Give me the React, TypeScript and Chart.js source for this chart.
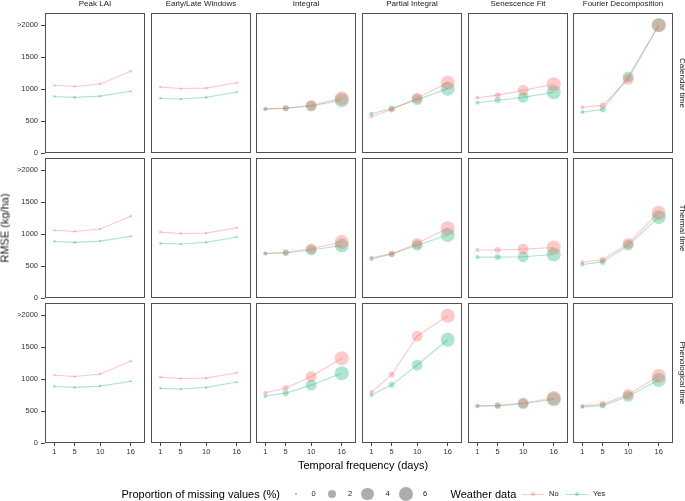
import React, { useEffect, useRef } from 'react';
import { Chart, registerables } from 'chart.js';

Chart.register(...registerables);

// ---------- data ----------
const frequencies = [1, 5, 10, 16];
const methods = ['Peak LAI', 'Early/Late Windows', 'Integral', 'Partial Integral', 'Senescence Fit', 'Fourier Decomposition'];
const timeBases = ['Calendar time', 'Thermal time', 'Phenological time'];
const yTickValues = [0, 500, 1000, 1500, 2000];
const yTickLabels = ['0', '500', '1000', '1500', '>2000'];
const missingLegendValues = [0, 2, 4, 6];
const weatherLabels = ['No', 'Yes'];

// RMSE (kg/ha), one row per method, values at frequencies 1, 5, 10, 16
const calendarNo = [
  [1060, 1040, 1080, 1280],
  [1030, 1010, 1015, 1100],
  [690, 700, 745, 855],
  [570, 680, 860, 1100],
  [865, 905, 980, 1075],
  [715, 745, 1150, 2000],
];
const calendarYes = [
  [885, 870, 890, 965],
  [855, 845, 870, 955],
  [690, 700, 735, 825],
  [615, 695, 835, 1005],
  [785, 825, 870, 950],
  [640, 680, 1190, 2000],
];
const thermalNo = [
  [1060, 1040, 1080, 1280],
  [1030, 1010, 1015, 1100],
  [695, 715, 770, 875],
  [605, 690, 855, 1090],
  [750, 750, 765, 790],
  [560, 600, 855, 1335],
];
const thermalYes = [
  [885, 870, 890, 965],
  [855, 845, 870, 955],
  [695, 705, 750, 820],
  [630, 690, 825, 985],
  [640, 640, 645, 680],
  [525, 565, 825, 1265],
];
const phenologicalNo = [
  [1060, 1040, 1080, 1280],
  [1030, 1010, 1015, 1100],
  [785, 860, 1040, 1325],
  [795, 1070, 1670, 1990],
  [585, 590, 625, 705],
  [580, 610, 760, 1050],
];
const phenologicalYes = [
  [885, 870, 890, 965],
  [855, 845, 870, 955],
  [735, 780, 905, 1090],
  [750, 910, 1220, 1615],
  [575, 580, 615, 685],
  [565, 585, 730, 985],
];

// proportion of missing values (%) at frequencies 1, 5, 10, 16
const missingNone = [0, 0, 0, 0];
const missingGrowing = [0.25, 0.8, 3, 5.2];
const methodMissing = [missingNone, missingNone, missingGrowing, missingGrowing, missingGrowing, missingGrowing];

const rowsNo = [calendarNo, thermalNo, phenologicalNo];
const rowsYes = [calendarYes, thermalYes, phenologicalYes];

// ---------- styling / layout ----------
const FONT = '"Liberation Sans", Arial, Helvetica, sans-serif';
const RED = 'rgba(250,100,100,0.35)';
const GREEN = 'rgba(20,180,115,0.35)';
const COL_LEFT = [45, 151, 256, 362, 468, 573];
const ROW_TOP = [13, 158, 303];
const PW = 100;
const PH = 140;
const Y_AXIS_W = 45;
const X_AXIS_H = 16;
const M = 10;
const X_MIN = -0.83;
const X_MAX = 18.8;
const Y_MIN = 0;
const Y_MAX = 2190;
const TICK_COLOR = '#333333';

const sizeToRadius = (p: number) => Math.sqrt(1.69 + 9.09 * p);

const borderPlugin = {
  id: 'panelBorder',
  afterDraw(chart: any) {
    const { ctx, chartArea: a } = chart;
    ctx.save();
    ctx.strokeStyle = '#4f4f4f';
    ctx.lineWidth = 1;
    ctx.strokeRect(Math.round(a.left) + 0.5, Math.round(a.top) + 0.5, Math.round(a.width) - 1, Math.round(a.height) - 1);
    ctx.restore();
  },
};

function Panel({ r, c }: { r: number; c: number }) {
  const ref = useRef<HTMLCanvasElement | null>(null);
  const showY = c === 0;
  const showX = r === 2;
  const w = PW + 2 * M + (showY ? Y_AXIS_W : 0);
  const h = PH + 2 * M + (showX ? X_AXIS_H : 0);
  const left = COL_LEFT[c] - M - (showY ? Y_AXIS_W : 0);
  const top = ROW_TOP[r] - M;

  useEffect(() => {
    if (!ref.current) return;
    const radii = methodMissing[c].map(sizeToRadius);
    const mk = (vals: number[], color: string, label: string) => ({
      label,
      data: frequencies.map((f, i) => ({ x: f, y: vals[i] })),
      borderColor: color,
      backgroundColor: color,
      pointBackgroundColor: color,
      pointBorderWidth: 0,
      pointBorderColor: 'rgba(0,0,0,0)',
      pointRadius: radii,
      borderWidth: 1.1,
      tension: 0,
      clip: false as any,
    });
    const chart = new Chart(ref.current, {
      type: 'line',
      data: {
        datasets: [mk(rowsNo[r][c], RED, weatherLabels[0]), mk(rowsYes[r][c], GREEN, weatherLabels[1])],
      },
      options: {
        animation: false,
        responsive: false,
        maintainAspectRatio: false,
        events: [],
        layout: { padding: M },
        plugins: { legend: { display: false }, tooltip: { enabled: false }, title: { display: false } },
        scales: {
          x: {
            type: 'linear',
            min: X_MIN,
            max: X_MAX,
            display: showX,
            afterBuildTicks: (s: any) => {
              s.ticks = frequencies.map((v) => ({ value: v }));
            },
            afterFit: (s: any) => {
              if (!showX) return;
              s.height = X_AXIS_H;
              s.paddingLeft = 0;
              s.paddingRight = 0;
            },
            grid: { drawOnChartArea: false, drawTicks: true, tickLength: 3, color: '#444444', lineWidth: 1 },
            border: { display: false },
            ticks: {
              font: { size: 7.5, family: FONT },
              color: TICK_COLOR,
              padding: 1,
              maxRotation: 0,
              autoSkip: false,
              callback: (v: any) => String(v),
            },
          },
          y: {
            type: 'linear',
            min: Y_MIN,
            max: Y_MAX,
            display: showY,
            afterBuildTicks: (s: any) => {
              s.ticks = yTickValues.map((v) => ({ value: v }));
            },
            afterFit: (s: any) => {
              if (!showY) return;
              s.width = Y_AXIS_W;
              s.paddingTop = 0;
              s.paddingBottom = 0;
            },
            grid: { drawOnChartArea: false, drawTicks: true, tickLength: 4, color: '#444444', lineWidth: 1 },
            border: { display: false },
            ticks: {
              font: { size: 7.5, family: FONT },
              color: TICK_COLOR,
              padding: 3,
              autoSkip: false,
              callback: (v: any) => {
                const i = yTickValues.indexOf(Number(v));
                return i >= 0 ? yTickLabels[i] : '';
              },
            },
          },
        },
      },
      plugins: [borderPlugin],
    } as any);
    return () => chart.destroy();
  }, [r, c]);

  return (
    <canvas
      ref={ref}
      width={w}
      height={h}
      style={{ position: 'absolute', left, top, width: w, height: h }}
    />
  );
}

function Text({
  x, y, text, size, anchor = 'middle', rotate = 0, color = '#1a1a1a',
}: { x: number; y: number; text: string; size: number; anchor?: 'start' | 'middle' | 'end'; rotate?: number; color?: string }) {
  const tx = anchor === 'middle' ? '-50%' : anchor === 'end' ? '-100%' : '0';
  return (
    <div
      style={{
        position: 'absolute',
        left: x,
        top: y,
        transform: `translate(${tx}, -50%) rotate(${rotate}deg)`,
        fontFamily: FONT,
        fontSize: size,
        lineHeight: 1,
        whiteSpace: 'nowrap',
        color,
      }}
    >
      {text}
    </div>
  );
}

function Dot({ x, y, r, color }: { x: number; y: number; r: number; color: string }) {
  return (
    <div
      style={{
        position: 'absolute',
        left: x - r,
        top: y - r,
        width: 2 * r,
        height: 2 * r,
        borderRadius: '50%',
        background: color,
      }}
    />
  );
}

export default function App() {
  const legendY = 494;
  const sizeDotX = [296, 332, 367.5, 406];
  const sizeLabelX = [313.5, 350, 387.5, 425];
  const weatherKeyX = [522, 565.5];
  const weatherTextX = [549, 593];
  const weatherColors = [RED, GREEN];
  return (
    <div
      style={{
        position: 'absolute',
        left: 0,
        top: 0,
        width: 685,
        height: 501,
        background: '#ffffff',
        overflow: 'hidden',
      }}
    >
      {ROW_TOP.map((_, r) => COL_LEFT.map((__, c) => <Panel key={`${r}-${c}`} r={r} c={c} />))}

      {methods.map((m, c) => (
        <Text key={m} x={COL_LEFT[c] + PW / 2} y={3.8} text={m} size={8} />
      ))}
      {timeBases.map((t, r) => (
        <Text key={t} x={681.5} y={ROW_TOP[r] + PH / 2} text={t} size={8} rotate={90} />
      ))}

      <Text x={4.6} y={228} text="RMSE (kg/ha)" size={11} rotate={-90} color="#1a1a1a" />
      <Text x={363} y={465} text="Temporal frequency (days)" size={11} color="#000" />

      <Text x={121.5} y={legendY} text="Proportion of missing values (%)" size={11} anchor="start" color="#000" />
      {missingLegendValues.map((v, i) => (
        <React.Fragment key={v}>
          <Dot x={sizeDotX[i]} y={legendY} r={sizeToRadius(v)} color="rgba(0,0,0,0.32)" />
          <Text x={sizeLabelX[i]} y={legendY} text={String(v)} size={7.5} color="#1a1a1a" />
        </React.Fragment>
      ))}

      <Text x={450.5} y={legendY} text="Weather data" size={11} anchor="start" color="#000" />
      {weatherLabels.map((lab, i) => (
        <React.Fragment key={lab}>
          <div
            style={{
              position: 'absolute',
              left: weatherKeyX[i],
              top: legendY - 0.5,
              width: 22,
              height: 1,
              background: weatherColors[i],
            }}
          />
          <Dot x={weatherKeyX[i] + 11} y={legendY} r={2} color={weatherColors[i]} />
          <Text x={weatherTextX[i]} y={legendY} text={lab} size={7.5} anchor="start" color="#1a1a1a" />
        </React.Fragment>
      ))}
    </div>
  );
}
